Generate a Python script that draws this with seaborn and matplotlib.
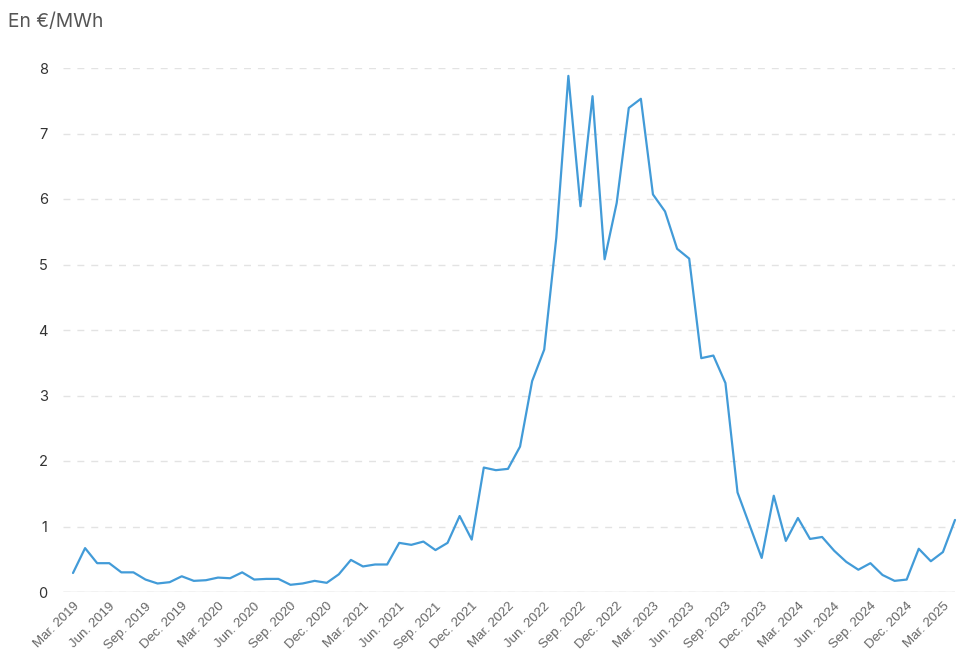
import matplotlib
matplotlib.use("Agg")
import matplotlib.pyplot as plt
import seaborn as sns
import pandas as pd

# Monthly values, Mar. 2019 -> Apr. 2025 (En €/MWh)
months = pd.date_range("2019-03-01", periods=74, freq="MS")
values = [
    0.29, 0.67, 0.44, 0.44, 0.30, 0.30, 0.19, 0.13, 0.15, 0.24,   # Mar19-Dec19
    0.17, 0.18, 0.22, 0.21, 0.30, 0.19, 0.20, 0.20, 0.11, 0.13,   # Jan20-Oct20
    0.17, 0.14, 0.27, 0.49, 0.39, 0.42, 0.42, 0.75, 0.72, 0.77,   # Nov20-Aug21
    0.64, 0.75, 1.16, 0.80, 1.90, 1.86, 1.88, 2.22, 3.22, 3.70,   # Sep21-Jun22
    5.41, 7.88, 5.89, 7.57, 5.08, 5.94, 7.39, 7.53, 6.07, 5.81,   # Jul22-Apr23
    5.24, 5.09, 3.57, 3.61, 3.19, 1.52, 1.02, 0.52, 1.47, 0.78,   # May23-Feb24
    1.13, 0.81, 0.84, 0.63, 0.46, 0.34, 0.44, 0.26, 0.17, 0.19,   # Mar24-Dec24
    0.66, 0.47, 0.61, 1.10,                                       # Jan25-Apr25
]
tick_labels = [
    "Mar. 2019", "Jun. 2019", "Sep. 2019", "Dec. 2019",
    "Mar. 2020", "Jun. 2020", "Sep. 2020", "Dec. 2020",
    "Mar. 2021", "Jun. 2021", "Sep. 2021", "Dec. 2021",
    "Mar. 2022", "Jun. 2022", "Sep. 2022", "Dec. 2022",
    "Mar. 2023", "Jun. 2023", "Sep. 2023", "Dec. 2023",
    "Mar. 2024", "Jun. 2024", "Sep. 2024", "Dec. 2024",
    "Mar. 2025",
]
y_ticks = [0, 1, 2, 3, 4, 5, 6, 7, 8]

df = pd.DataFrame({"idx": range(len(values)), "month": months, "value": values})

sns.set_theme(style="white")
plt.rcParams["font.family"] = ["Inter", "DejaVu Sans"]

fig = plt.figure(figsize=(9.75, 6.67), dpi=100)
W, H = 975, 667
left_px, right_px = 63, 955
bottom_px, top_px = 592, 68
ax = fig.add_axes([left_px / W, 1 - bottom_px / H,
                   (right_px - left_px) / W, (bottom_px - top_px) / H])

sns.lineplot(data=df, x="idx", y="value", ax=ax, color="#429bd8",
             linewidth=1.6, clip_on=False)

ax.set_xlim(-10 / 12.08, 73)
ax.set_ylim(0, 8)

for s in ax.spines.values():
    s.set_visible(False)

ax.set_yticks(y_ticks)
ax.set_yticklabels([str(v) for v in y_ticks])
ax.yaxis.grid(True, color="#e3e3e3", linestyle=(0, (5, 5)), linewidth=1.0)
ax.set_axisbelow(True)
ax.axhline(0, color="#d6d6d6", linewidth=1.0, zorder=0)

ax.set_xticks(range(0, len(values), 3))
ax.set_xticklabels(tick_labels, rotation=45, ha="right", rotation_mode="anchor",
                   fontsize=9.5, color="#666666", family=["Liberation Sans", "DejaVu Sans"])
ax.tick_params(axis="x", length=0, pad=6)
ax.tick_params(axis="y", length=0, pad=11, labelsize=10.5, labelcolor="#333333")

ax.set_xlabel("")
ax.set_ylabel("")

fig.text(8 / W, 1 - 22 / H, "En €/MWh", fontsize=13.8, color="#555555",
         va="center", ha="left")

fig.savefig("out.png", dpi=100)
